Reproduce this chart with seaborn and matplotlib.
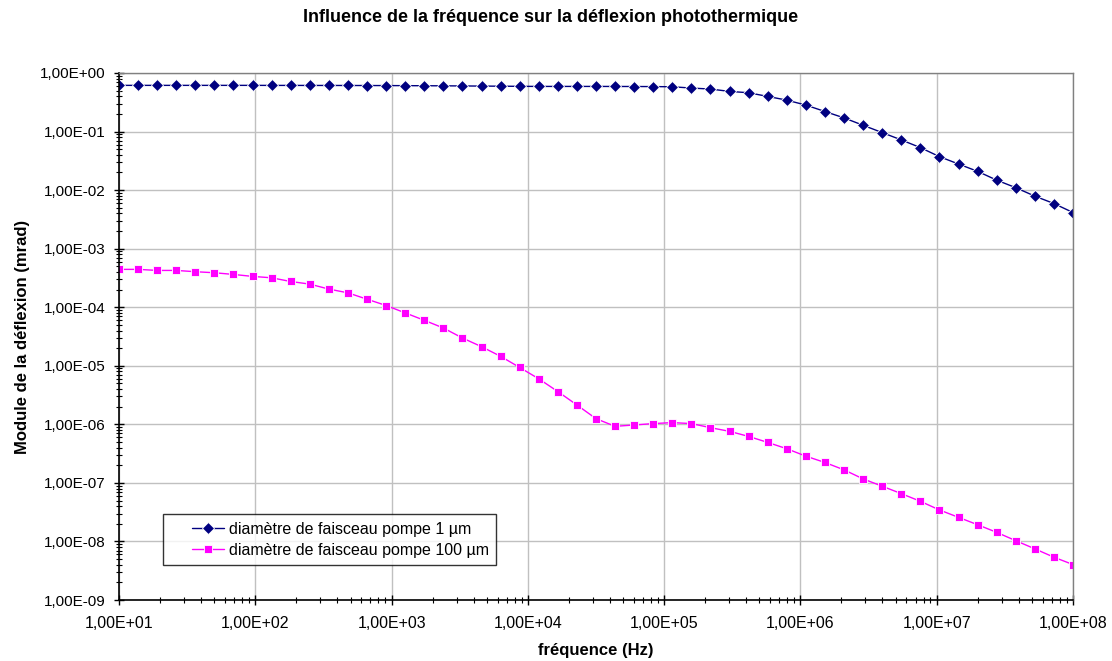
import pandas as pd
import matplotlib
matplotlib.use("Agg")
import matplotlib.pyplot as plt
import matplotlib.ticker as mticker
from matplotlib.lines import Line2D
from matplotlib.legend_handler import HandlerLine2D
import seaborn as sns

sns.set_theme(style="white")
plt.rcParams["font.family"] = ["Liberation Sans", "DejaVu Sans"]
plt.rcParams.update({"text.color": "black", "axes.labelcolor": "black",
                     "xtick.color": "black", "ytick.color": "black"})

# fréquences (Hz), 51 points répartis en log de 1E+01 à 1E+08
freq = [10, 13.80, 19.05, 26.30, 36.31, 50.12, 69.18, 95.50, 131.8, 182.0,
        251.2, 346.7, 478.6, 660.7, 912.0, 1259, 1738, 2399, 3311, 4571,
        6310, 8710, 12023, 16596, 22909, 31623, 43652, 60256, 83176, 114815,
        158489, 218776, 301995, 416869, 575440, 794328, 1096478, 1513561,
        2089296, 2884032, 3981072, 5495409, 7585776, 10471285, 14454398,
        19952623, 27542287, 38018940, 52480746, 72443596, 100000000]

# diamètre de faisceau pompe 1 µm
defl_1um = [0.615, 0.615, 0.615, 0.615, 0.615, 0.615, 0.615, 0.615, 0.614, 0.614,
            0.613, 0.613, 0.612, 0.611, 0.610, 0.608, 0.606, 0.604, 0.601, 0.598,
            0.595, 0.592, 0.59, 0.59, 0.59, 0.59, 0.589, 0.588, 0.586, 0.582,
            0.553, 0.532, 0.485, 0.46, 0.398, 0.344, 0.283, 0.22, 0.171, 0.128,
            0.096, 0.072, 0.0532, 0.0373, 0.0279, 0.0209, 0.0148, 0.011, 0.00789,
            0.0059, 0.00414]

# diamètre de faisceau pompe 100 µm
defl_100um = [4.43e-4, 4.43e-4, 4.25e-4, 4.25e-4, 4.04e-4, 3.88e-4, 3.63e-4, 3.36e-4,
              3.18e-4, 2.75e-4, 2.48e-4, 2.04e-4, 1.76e-4, 1.37e-4, 1.07e-4, 8.0e-5,
              5.98e-5, 4.42e-5, 2.98e-5, 2.12e-5, 1.45e-5, 9.36e-6, 5.99e-6, 3.63e-6,
              2.14e-6, 1.25e-6, 9.25e-7, 9.74e-7, 1.03e-6, 1.07e-6, 1.03e-6, 8.77e-7,
              7.59e-7, 6.22e-7, 4.91e-7, 3.83e-7, 2.86e-7, 2.23e-7, 1.67e-7, 1.17e-7,
              8.77e-8, 6.56e-8, 4.85e-8, 3.45e-8, 2.58e-8, 1.93e-8, 1.43e-8, 1.03e-8,
              7.48e-9, 5.38e-9, 4.03e-9]

x_ticks = [1e1, 1e2, 1e3, 1e4, 1e5, 1e6, 1e7, 1e8]
y_ticks = [1e-9, 1e-8, 1e-7, 1e-6, 1e-5, 1e-4, 1e-3, 1e-2, 1e-1, 1e0]

SERIES = ["diamètre de faisceau pompe 1 µm", "diamètre de faisceau pompe 100 µm"]

df = pd.DataFrame({
    "freq": freq * 2,
    "module": defl_1um + defl_100um,
    "serie": [SERIES[0]] * len(freq) + [SERIES[1]] * len(freq),
})


class PaddedLine(HandlerLine2D):
    # Excel laisse un blanc à gauche du symbole dans la légende
    def create_artists(self, legend, orig_handle, xdescent, ydescent, width,
                       height, fontsize, trans):
        shift = 1.35 * fontsize
        return super().create_artists(legend, orig_handle, xdescent - shift, ydescent,
                                      width - shift, height, fontsize, trans)


fig = plt.figure(figsize=(11.12, 6.61), dpi=100)
ax = fig.add_axes([119 / 1112, 1 - 600 / 661, 954 / 1112, 527 / 661])

sns.lineplot(data=df, x="freq", y="module", hue="serie", style="serie",
             hue_order=SERIES, style_order=SERIES,
             palette={SERIES[0]: "#000080", SERIES[1]: "#FF00FF"},
             markers={SERIES[0]: "D", SERIES[1]: "s"}, dashes=False,
             markersize=5.7, markeredgewidth=0.6, linewidth=1, ax=ax)

ax.set_xscale("log")
ax.set_yscale("log")
ax.set_xlim(x_ticks[0], x_ticks[-1])
ax.set_ylim(y_ticks[0], y_ticks[-1])

fmt = mticker.FuncFormatter(lambda v, p: f"{v:.2E}".replace(".", ","))
ax.xaxis.set_major_locator(mticker.FixedLocator(x_ticks))
ax.yaxis.set_major_locator(mticker.FixedLocator(y_ticks))
ax.xaxis.set_minor_locator(mticker.LogLocator(base=10, subs=range(2, 10), numticks=20))
ax.yaxis.set_minor_locator(mticker.LogLocator(base=10, subs=range(2, 10), numticks=20))
ax.xaxis.set_major_formatter(fmt)
ax.yaxis.set_major_formatter(fmt)
ax.xaxis.set_minor_formatter(mticker.NullFormatter())
ax.yaxis.set_minor_formatter(mticker.NullFormatter())

ax.tick_params(which="major", direction="inout", length=7, width=1, color="black",
               labelcolor="black", labelsize=11, left=True, bottom=True)
ax.tick_params(axis="x", which="major", pad=8, labelsize=11.5)
ax.tick_params(axis="y", which="major", pad=6)
ax.tick_params(which="minor", direction="inout", length=5, width=0.8, color="black",
               left=True, bottom=True)

ax.grid(which="major", color="#c0c0c0", linewidth=1)
ax.grid(which="minor", visible=False)
for s in ["left", "bottom"]:
    ax.spines[s].set_color("black")
    ax.spines[s].set_linewidth(1.2)
for s in ["top", "right"]:
    ax.spines[s].set_color("#808080")
    ax.spines[s].set_linewidth(1)

ax.set_xlabel("fréquence (Hz)", fontsize=12, fontweight="bold", labelpad=9)
ax.set_ylabel("Module de la déflexion (mrad)", fontsize=12, fontweight="bold", labelpad=7)
fig.suptitle("Influence de la fréquence sur la déflexion photothermique",
             fontsize=13, fontweight="bold", x=551 / 1112, y=1 - 17 / 661, va="center")

leg = ax.legend(loc="lower left", bbox_to_anchor=(0.046, 0.066), fontsize=11.5,
                frameon=True, fancybox=False, shadow=False, handlelength=3.4,
                borderpad=0.45, labelspacing=0.4, handletextpad=0.3,
                borderaxespad=0, handler_map={Line2D: PaddedLine()})
leg.get_frame().set_edgecolor("black")
leg.get_frame().set_linewidth(1)
for t in leg.get_texts():
    t.set_color("black")

fig.savefig("out.png", dpi=100)
